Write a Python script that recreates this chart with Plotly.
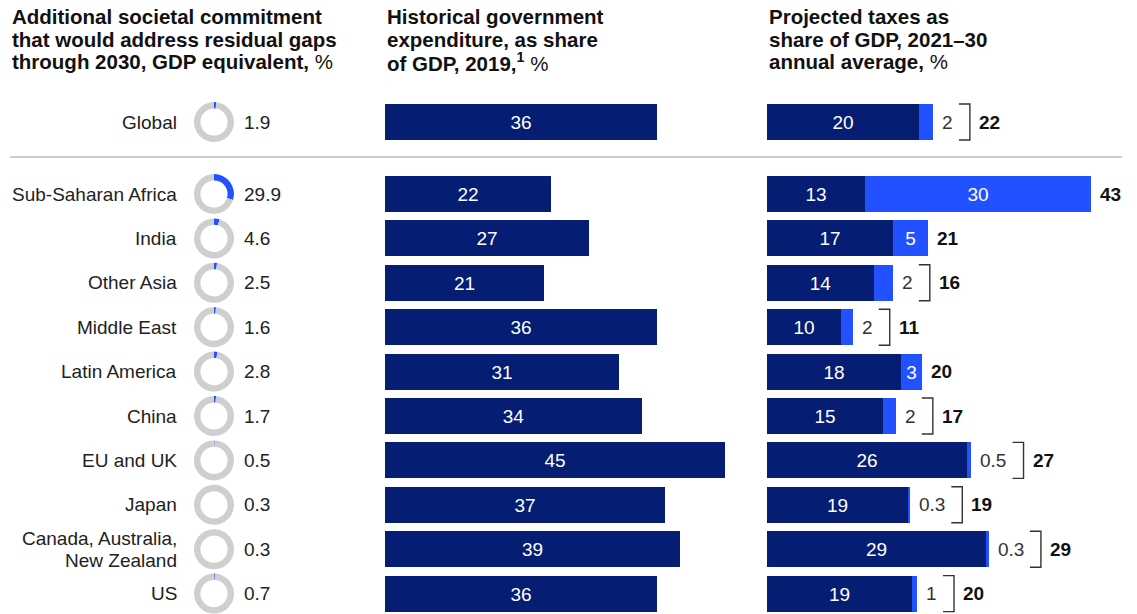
import plotly.graph_objects as go

# ---------------- data ----------------
regions = ["Global", "Sub-Saharan Africa", "India", "Other Asia", "Middle East",
           "Latin America", "China", "EU and UK", "Japan",
           "Canada, Australia,<br>New Zealand", "US"]
commitment = [1.9, 29.9, 4.6, 2.5, 1.6, 2.8, 1.7, 0.5, 0.3, 0.3, 0.7]
commitment_labels = ["1.9", "29.9", "4.6", "2.5", "1.6", "2.8", "1.7", "0.5", "0.3", "0.3", "0.7"]
expenditure = [36, 22, 27, 21, 36, 31, 34, 45, 37, 39, 36]
taxes = [20.1, 13.0, 16.7, 14.2, 9.8, 17.7, 15.4, 26.5, 18.6, 29.0, 19.2]
tax_labels = ["20", "13", "17", "14", "10", "18", "15", "26", "19", "29", "19"]
gap_labels = ["2", "30", "5", "2", "2", "3", "2", "0.5", "0.3", "0.3", "1"]
total_labels = ["22", "43", "21", "16", "11", "20", "17", "27", "19", "29", "20"]

headers = [
    ["<b>Additional societal commitment</b>",
     "<b>that would address residual gaps</b>",
     "<b>through 2030, GDP equivalent,</b> %"],
    ["<b>Historical government</b>",
     "<b>expenditure, as share</b>",
     "<b>of GDP, 2019,<sup>1</sup></b> %"],
    ["<b>Projected taxes as</b>",
     "<b>share of GDP, 2021–30</b>",
     "<b>annual average,</b> %"],
]

# ---------------- styling / layout constants ----------------
OFF = 8                       # page body margin
W, H = 1137 - OFF, 614 - OFF  # figure size
FONT = "Liberation Sans"
DARK = "#051D73"
BLUE = "#2251FF"
GREY = "#CFCFCF"
TXT = "#222222"

# pixel positions measured on the page
ROW_Y0 = 194.0 - OFF    # centre of first regional row
ROW_STEP = 44.4
GLOBAL_PX = 122.0 - OFF
SEP_PX = 157.0 - OFF
BAR_W = 36 / ROW_STEP
PX = 7.56               # pixels per percentage point
MID_X0 = 385 - OFF
RIGHT_X0 = 767 - OFF
LABEL_X = 179 - OFF
DONUT_CX = 214 - OFF
DONUT_D = 40
VAL_X = 242 - OFF
FS = 19
HEADER_X = [10 - OFF, 385 - OFF, 767 - OFF]
HEADER_BASE = [24 - OFF, 46.5 - OFF, 69 - OFF]
SEP_X = [10 - OFF, 1122 - OFF]

ypos = [(GLOBAL_PX - ROW_Y0) / ROW_STEP] + list(range(len(regions) - 1))


def row_px(y):
    return ROW_Y0 + y * ROW_STEP


def text_width(s, size=FS):
    w = 0
    for ch in s:
        w += 0.278 if ch == "." else 0.556
    return w * size


fig = go.Figure()

# donuts
for y, c in zip(ypos, commitment):
    cy = row_px(y)
    fig.add_trace(go.Pie(
        values=[c, 100 - c], hole=0.68, sort=False, direction="clockwise", rotation=0,
        marker=dict(colors=[BLUE, GREY], line=dict(width=0)),
        textinfo="none", hoverinfo="skip", showlegend=False,
        domain=dict(x=[(DONUT_CX - DONUT_D / 2) / W, (DONUT_CX + DONUT_D / 2) / W],
                    y=[max(0, 1 - (cy + DONUT_D / 2) / H), 1 - (cy - DONUT_D / 2) / H])))

# middle panel bars
fig.add_trace(go.Bar(
    x=expenditure, y=ypos, orientation="h", xaxis="x2", yaxis="y", width=BAR_W,
    marker=dict(color=DARK, line=dict(width=0)),
    text=[str(v) for v in expenditure], textposition="inside", insidetextanchor="middle",
    textangle=0, textfont=dict(color="white", size=FS, family=FONT),
    hoverinfo="skip", showlegend=False, cliponaxis=False))

# right panel stacked bars
inside = [c >= 2.7 for c in commitment]
fig.add_trace(go.Bar(
    x=taxes, y=ypos, orientation="h", xaxis="x3", yaxis="y", width=BAR_W,
    marker=dict(color=DARK, line=dict(width=0)),
    text=tax_labels, textposition="inside", insidetextanchor="middle",
    textangle=0, textfont=dict(color="white", size=FS, family=FONT),
    hoverinfo="skip", showlegend=False, cliponaxis=False))
fig.add_trace(go.Bar(
    x=commitment, y=ypos, orientation="h", xaxis="x3", yaxis="y", width=BAR_W,
    marker=dict(color=BLUE, line=dict(width=0)),
    text=[g if ins else " " for g, ins in zip(gap_labels, inside)],
    textposition="inside", insidetextanchor="middle",
    textangle=0, textfont=dict(color="white", size=FS, family=FONT),
    hoverinfo="skip", showlegend=False, cliponaxis=False))

annotations = []
bx, by = [], []
half = BAR_W / 2
for y, t, c, g, tot, ins in zip(ypos, taxes, commitment, gap_labels, total_labels, inside):
    end = t + c
    if ins:
        tot_shift = 7
    else:
        annotations.append(dict(x=end, y=y, xref="x3", yref="y", xshift=7, xanchor="left",
                                yanchor="middle", text=g, showarrow=False,
                                font=dict(size=FS, color="#333333", family=FONT)))
        b0 = end + (7 + text_width(g) + 8) / PX
        b1 = b0 + 11 / PX
        bx += [b0, b1, b1, b0, None]
        by += [y - half, y - half, y + half, y + half, None]
        tot_shift = 7 + text_width(g) + 8 + 11 + 7
    annotations.append(dict(x=end, y=y, xref="x3", yref="y", xshift=tot_shift, xanchor="left",
                            yanchor="middle", text="<b>%s</b>" % tot, showarrow=False,
                            font=dict(size=FS, color="#111111", family=FONT)))

fig.add_trace(go.Scatter(x=bx, y=by, mode="lines", xaxis="x3", yaxis="y",
                         line=dict(color="#333333", width=1.4), hoverinfo="skip",
                         showlegend=False, cliponaxis=False))

# row labels and donut values
for y, lab, cl in zip(ypos, regions, commitment_labels):
    lines = lab.split("<br>")
    n = len(lines)
    for k, ln in enumerate(lines):
        annotations.append(dict(x=LABEL_X / W, y=y, xref="paper", yref="y", xanchor="right",
                                yanchor="middle", yshift=((n - 1) / 2 - k) * 22, text=ln,
                                showarrow=False, font=dict(size=FS, color=TXT, family=FONT)))
    annotations.append(dict(x=VAL_X / W, y=y, xref="paper", yref="y", xanchor="left",
                            yanchor="middle", text=cl, showarrow=False,
                            font=dict(size=FS, color=TXT, family=FONT)))

# headers
for hx, lines in zip(HEADER_X, headers):
    for base, ln in zip(HEADER_BASE, lines):
        annotations.append(dict(x=hx / W, y=1 - (base - 7.2) / H, xref="paper", yref="paper",
                                xanchor="left", yanchor="middle", text=ln, showarrow=False,
                                font=dict(size=20.5, color="#111111", family=FONT)))

sep_y = (SEP_PX - ROW_Y0) / ROW_STEP
fig.update_layout(
    width=W, height=H, margin=dict(l=0, r=0, t=0, b=0),
    paper_bgcolor="white", plot_bgcolor="white",
    barmode="stack", bargap=0, hovermode=False,
    font=dict(family=FONT, color=TXT),
    xaxis=dict(visible=False, domain=[0, 1], range=[0, W]),
    xaxis2=dict(visible=False, domain=[MID_X0 / W, 1], range=[0, (W - MID_X0) / PX],
                anchor="y", fixedrange=True),
    xaxis3=dict(visible=False, domain=[RIGHT_X0 / W, 1], range=[0, (W - RIGHT_X0) / PX],
                anchor="y", fixedrange=True),
    yaxis=dict(visible=False, domain=[0, 1], anchor="x2",
               range=[(H - ROW_Y0) / ROW_STEP, (0 - ROW_Y0) / ROW_STEP], fixedrange=True),
    annotations=annotations,
    shapes=[dict(type="line", xref="paper", yref="y", x0=SEP_X[0] / W, x1=SEP_X[1] / W,
                 y0=sep_y, y1=sep_y, line=dict(color="#9A9A9A", width=1))],
)

fig.write_html("out.html", config={"displayModeBar": False})
